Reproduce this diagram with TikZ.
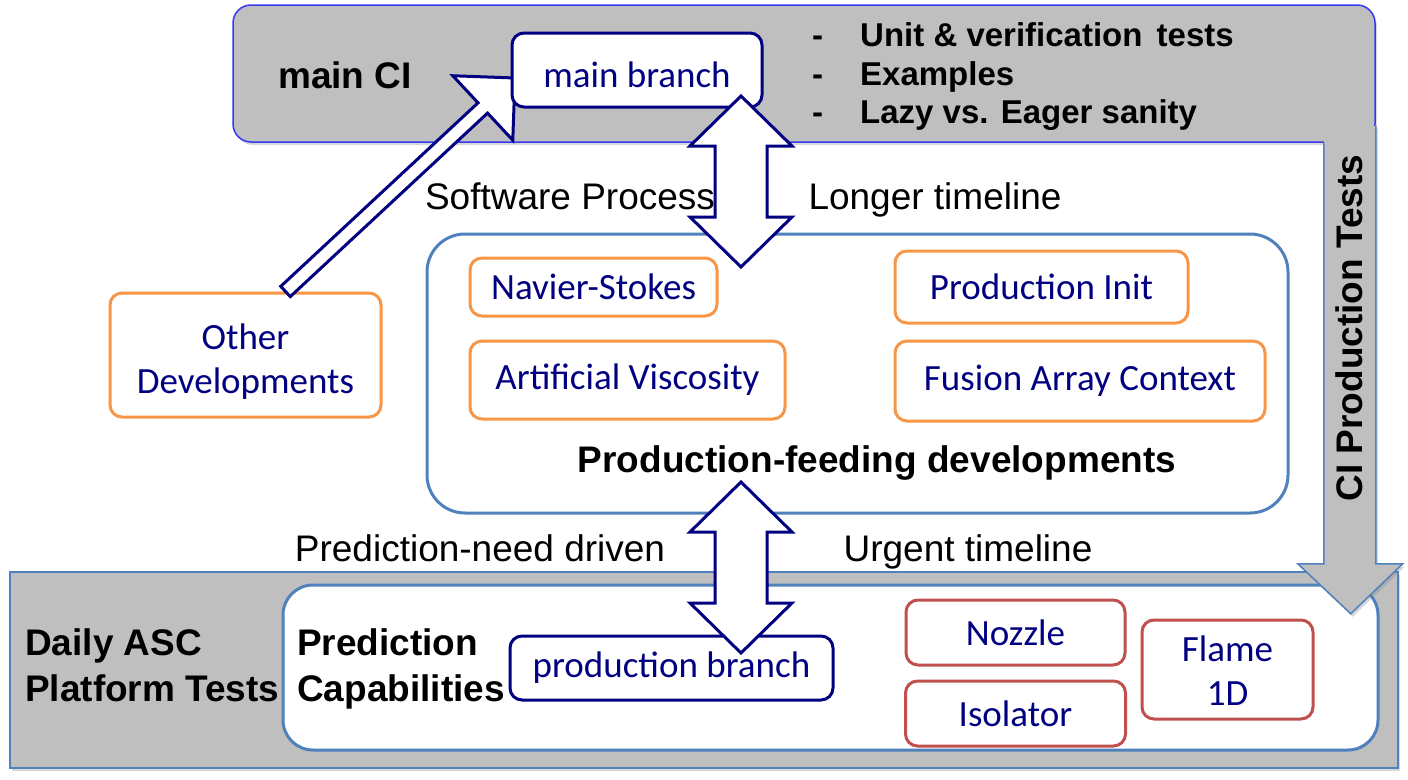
\documentclass[tikz,border=0pt]{standalone}
\usepackage{fontspec}
\setmainfont{Liberation Sans}
\newfontfamily\calfont{Carlito}
\usepackage{tikz}
\usetikzlibrary{calc,positioning,shadows}
\definecolor{linknavy}{HTML}{000080}
\definecolor{devorange}{HTML}{F79646}
\definecolor{testred}{HTML}{C0504D}
\definecolor{frameblue}{HTML}{4F81BD}
\definecolor{ciblue}{HTML}{3838F2}
\definecolor{bandgray}{HTML}{BFBFBF}
\newcommand\bul[1]{\makebox[48pt][l]{-}#1}

\begin{document}
\begin{tikzpicture}[x=1pt, y=-1pt,
  box/.style={draw, rounded corners=12pt, line width=3pt, fill=white, align=center, inner sep=0pt,
    text=linknavy, font=\calfont\fontsize{37}{44}\selectfont},
  brbox/.style={box, draw=linknavy},
  devbox/.style={box, draw=devorange},
  capbox/.style={box, draw=testred},
  lbl/.style={font=\fontsize{37}{44}\selectfont, inner sep=0pt, anchor=base},
  blbl/.style={font=\bfseries\fontsize{37}{46}\selectfont, inner sep=0pt, align=left},
  band/.style={fill=bandgray, drop shadow={opacity=0.3, shadow xshift=2pt, shadow yshift=-3pt}},
  blockarr/.style={draw=linknavy, fill=white, line width=3pt, line join=miter},
  vdbl/.pic={\draw[blockarr] (0,0) -- (51,50) -- (26,50) -- (26,121) -- (51,121) -- (0,171)
    -- (-51,121) -- (-26,121) -- (-26,50) -- (-51,50) -- cycle;}]
\path[use as bounding box, fill=white] (0,0) rectangle (1408,779);
% tiers
\node[band, draw=ciblue, line width=1.5pt, rounded corners=18pt, minimum width=1142pt, minimum height=137pt] (maintier) at (804,73.5) {};
\node[band, draw=frameblue, line width=1.5pt, minimum width=1388pt, minimum height=196pt] (dailytier) at (704,670) {};
\node[draw=frameblue, line width=3pt, fill=white, rounded corners=30pt, minimum width=1095pt, minimum height=165pt] (predtier) at (830.5,667.5) {};
\node[draw=frameblue, line width=3pt, fill=white, rounded corners=38pt, minimum width=861pt, minimum height=279pt] (feed) at (857.5,373.5) {};

% main CI tier
\node[lbl, font=\bfseries\fontsize{37}{44}\selectfont] (maincilbl) at (345,88) {main CI};
\node[blbl, font=\bfseries\fontsize{33}{38.5}\selectfont, anchor=west] (citestlist) at (812,77)
  {\bul{Unit \& verification\hspace{5pt} tests}\\\bul{Examples}\\\bul{Lazy vs. Eager sanity}};
\node[devbox, minimum width=271pt, minimum height=124pt] (otherdev) at (245.5,355) {\rule{0pt}{38pt}Other\\Developments};
\coordinate (odtail) at ($(otherdev.north)+(40,0)$);
\coordinate (mbtip) at (515,78); % hidden under main branch
\path let \p1=($(mbtip)-(odtail)$) in
  \pgfextra{\pgfmathsetmacro\devang{atan2(\y1,\x1)}\xdef\devang{\devang}
            \pgfmathsetmacro\devlen{veclen(\x1,\y1)}\xdef\devlen{\devlen}};
\draw[blockarr, shift={(mbtip)}, rotate=\devang] (0,0) -- (-44,44) -- (-44,7) -- (-\devlen,7)
  -- (-\devlen,-7) -- (-44,-7) -- (-44,-44) -- cycle;
\node[brbox, minimum width=250pt, minimum height=74pt] (mainbr) at (637,70) {\raisebox{-5pt}[\height][\depth]{main branch}};

% production-feeding developments
\node[devbox, minimum width=247pt, minimum height=58pt] (navier) at (593.5,287) {Navier-Stokes};
\node[devbox, below=22pt of navier.south west, anchor=north west, minimum width=315pt, minimum height=78pt] (artvisc) {Artificial Viscosity};
\node[devbox, minimum width=293pt, minimum height=72pt] (prodinit) at (1041.5,287) {Production Init};
\node[devbox, below=15pt of prodinit.south west, anchor=north west, minimum width=370pt, minimum height=80pt] (fusion) {Fusion Array Context};
\node[lbl, font=\bfseries\fontsize{37}{44}\selectfont] (feedlbl) at (877,472) {Production-feeding developments};
\node[lbl] (swproc) at (570,209) {Software Process};
\node[lbl] (longtl) at (935,209) {Longer timeline};
\node[lbl] (predneed) at (480,561) {Prediction-need driven};
\node[lbl] (urgenttl) at (968,561) {Urgent timeline};

% daily tier
\node[blbl, anchor=west] (dailylbl) at (25,665.5) {Daily ASC\\Platform Tests};
\node[blbl, anchor=west] (predlbl) at (297,669) {Prediction\\Capabilities};
\node[brbox, minimum width=323pt, minimum height=64pt] (prodbr) at (671.5,668) {production branch};
\node[capbox, minimum width=219pt, minimum height=65pt] (nozzle) at (1015.5,632.5) {Nozzle};
\node[capbox, below=13pt of nozzle, minimum width=220pt, minimum height=65pt] (isolator) {Isolator};
\node[capbox, minimum width=171pt, minimum height=99pt] (flame) at (1227.5,669.5) {\rule{0pt}{28pt}Flame\\1D};

% two-way links
\coordinate (swtop) at (741,96);
\coordinate (prtop) at (741,482);
\pic at (swtop) {vdbl};
\pic at (prtop) {vdbl};

% CI production tests arrow
\coordinate (cistart) at (maintier.south east);
\fill[bandgray, drop shadow={opacity=0.3, shadow xshift=2pt, shadow yshift=-3pt}]
  (cistart) ++(0,-17) -- ++(-52,0) -- ++(0,438) -- ++(-26,0) -- ++(53,50) -- ++(52,-50) -- ++(-27,0) -- cycle;
\draw[frameblue, line width=1.5pt, line join=miter]
  (cistart) ++(-52,0) -- ++(0,421) -- ++(-26,0) -- ++(53,50) -- ++(52,-50) -- ++(-27,0) -- ++(0,-438);
\node[blbl, rotate=90] (citests) at (1349,328) {CI Production Tests};
\end{tikzpicture}
\end{document}
